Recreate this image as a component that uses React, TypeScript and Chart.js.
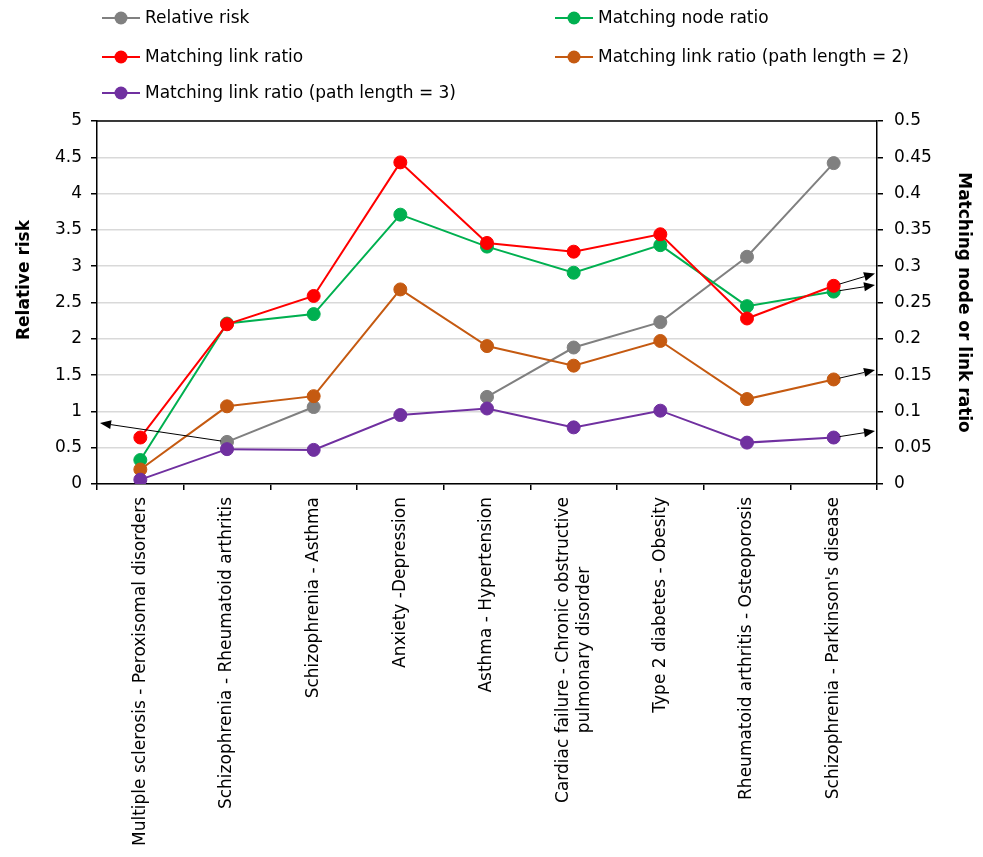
import { useEffect, useRef } from 'react';
import { Chart, registerables } from 'chart.js';

Chart.register(...registerables);

const categories: (string | string[])[] = [
  'Multiple sclerosis - Peroxisomal disorders',
  'Schizophrenia - Rheumatoid arthritis',
  'Schizophrenia - Asthma',
  'Anxiety -Depression',
  'Asthma - Hypertension',
  ['Cardiac failure - Chronic obstructive', 'pulmonary disorder'],
  'Type 2 diabetes - Obesity',
  'Rheumatoid arthritis - Osteoporosis',
  "Schizophrenia - Parkinson's disease",
];

const relativeRisk = [null, 0.58, 1.06, null, 1.2, 1.88, 2.23, 3.13, 4.42];
const nodeRatio = [0.033, 0.221, 0.234, 0.371, 0.327, 0.291, 0.329, 0.245, 0.265];
const linkRatio = [0.064, 0.22, 0.259, 0.443, 0.332, 0.32, 0.344, 0.228, 0.273];
const linkRatio2 = [0.02, 0.107, 0.121, 0.268, 0.19, 0.163, 0.197, 0.117, 0.144];
const linkRatio3 = [0.006, 0.048, 0.047, 0.095, 0.104, 0.078, 0.101, 0.057, 0.064];

const seriesLabels = [
  'Relative risk',
  'Matching node ratio',
  'Matching link ratio',
  'Matching link ratio (path length = 2)',
  'Matching link ratio (path length = 3)',
];
const seriesColors = ['#808080', '#00b050', '#ff0000', '#c55a11', '#7030a0'];

const leftAxisTitle = 'Relative risk';
const rightAxisTitle = 'Matching node or link ratio';

// annotation arrows: from a series point to a value on an axis edge
const arrows = [
  { series: 0, index: 1, axis: 'y', value: 0.84, side: 'left' },
  { series: 2, index: 8, axis: 'y1', value: 0.29, side: 'right' },
  { series: 1, index: 8, axis: 'y1', value: 0.274, side: 'right' },
  { series: 3, index: 8, axis: 'y1', value: 0.157, side: 'right' },
  { series: 4, index: 8, axis: 'y1', value: 0.073, side: 'right' },
];

const FONT = "'DejaVu Sans', sans-serif";
const FS = 17;

const fmt = (v: number) => String(Number(Number(v).toFixed(2)));

const decorPlugin = {
  id: 'decor',
  afterDatasetsDraw(chart: any) {
    const { ctx, chartArea } = chart;
    ctx.save();
    ctx.strokeStyle = '#000';
    ctx.fillStyle = '#000';
    ctx.lineWidth = 1;
    arrows.forEach((a) => {
      const meta = chart.getDatasetMeta(a.series);
      const pt = meta.data[a.index];
      if (!pt) return;
      const sx = pt.x, sy = pt.y;
      const tx = a.side === 'left' ? chartArea.left + 3 : chartArea.right - 2;
      const ty = chart.scales[a.axis].getPixelForValue(a.value);
      const ang = Math.atan2(ty - sy, tx - sx);
      const r = 6;
      const x0 = sx + Math.cos(ang) * r, y0 = sy + Math.sin(ang) * r;
      const hl = 11, hw = 4.5;
      const bx = tx - Math.cos(ang) * hl, by = ty - Math.sin(ang) * hl;
      ctx.beginPath();
      ctx.moveTo(x0, y0);
      ctx.lineTo(bx, by);
      ctx.stroke();
      ctx.beginPath();
      ctx.moveTo(tx, ty);
      ctx.lineTo(bx + Math.sin(ang) * hw, by - Math.cos(ang) * hw);
      ctx.lineTo(bx - Math.sin(ang) * hw, by + Math.cos(ang) * hw);
      ctx.closePath();
      ctx.fill();
    });
    ctx.restore();
  },
  afterDraw(chart: any) {
    const { ctx, chartArea } = chart;
    ctx.save();
    // top border of plot area
    ctx.strokeStyle = '#000';
    ctx.lineWidth = 1.5;
    ctx.beginPath();
    ctx.moveTo(chartArea.left, chartArea.top);
    ctx.lineTo(chartArea.right, chartArea.top);
    ctx.stroke();

    // category labels, rotated, lines centred on each other
    const xs = chart.scales.x;
    ctx.font = `${FS}px ${FONT}`;
    ctx.fillStyle = '#000';
    ctx.textBaseline = 'middle';
    ctx.textAlign = 'center';
    const lh = 21;
    const top = chartArea.bottom + 13;
    categories.forEach((c, i) => {
      const lines = Array.isArray(c) ? c : [c];
      const maxW = Math.max(...lines.map((l) => ctx.measureText(l).width));
      const px = xs.getPixelForTick(i);
      ctx.save();
      ctx.translate(px, top);
      ctx.rotate(-Math.PI / 2);
      lines.forEach((l, k) => {
        ctx.fillText(l, -maxW / 2, (k - (lines.length - 1) / 2) * lh);
      });
      ctx.restore();
    });

    // legend
    const colX = [102, 555];
    const rowY = [18, 57, 93];
    ctx.font = `${FS}px ${FONT}`;
    ctx.textBaseline = 'middle';
    ctx.textAlign = 'left';
    seriesLabels.forEach((lab, i) => {
      const x = colX[i % 2];
      const y = rowY[Math.floor(i / 2)];
      ctx.strokeStyle = seriesColors[i];
      ctx.lineWidth = 2;
      ctx.beginPath();
      ctx.moveTo(x, y);
      ctx.lineTo(x + 38, y);
      ctx.stroke();
      ctx.fillStyle = seriesColors[i];
      ctx.beginPath();
      ctx.arc(x + 19, y, 6.5, 0, Math.PI * 2);
      ctx.fill();
      ctx.fillStyle = '#000';
      ctx.fillText(lab, x + 43, y + 1);
    });

    // axis titles
    ctx.font = `bold ${FS}px ${FONT}`;
    ctx.textAlign = 'center';
    ctx.fillStyle = '#000';
    ctx.save();
    ctx.translate(25, 280);
    ctx.rotate(-Math.PI / 2);
    ctx.fillText(leftAxisTitle, 0, 0);
    ctx.restore();
    ctx.save();
    ctx.translate(963, (chartArea.top + chartArea.bottom) / 2);
    ctx.rotate(Math.PI / 2);
    ctx.fillText(rightAxisTitle, 0, 0);
    ctx.restore();
    ctx.restore();
  },
};

export default function App() {
  const ref = useRef<HTMLCanvasElement | null>(null);
  useEffect(() => {
    if (!ref.current) return;
    const data = [relativeRisk, nodeRatio, linkRatio, linkRatio2, linkRatio3];
    const chart = new Chart(ref.current, {
      type: 'line',
      data: {
        labels: categories as any,
        datasets: data.map((d, i) => ({
          label: seriesLabels[i],
          data: d as any,
          yAxisID: i === 0 ? 'y' : 'y1',
          borderColor: seriesColors[i],
          backgroundColor: seriesColors[i],
          pointBackgroundColor: seriesColors[i],
          pointBorderColor: seriesColors[i],
          pointRadius: 6.5,
          pointBorderWidth: 1,
          borderWidth: 2,
          tension: 0,
          spanGaps: false,
          order: 5 - i,
        })),
      },
      options: {
        animation: false,
        responsive: true,
        maintainAspectRatio: false,
        layout: { autoPadding: false, padding: { top: 121, left: 0, right: 0, bottom: 0 } },
        plugins: { legend: { display: false }, tooltip: { enabled: false } },
        scales: {
          x: {
            type: 'category',
            offset: true,
            grid: {
              display: true,
              drawOnChartArea: false,
              offset: true,
              tickLength: 6,
              tickColor: '#000',
              lineWidth: 1.5,
            },
            border: { color: '#000', width: 1.5 },
            ticks: { display: false, autoSkip: false },
            afterFit: (s: any) => { s.height = 373; },
          },
          y: {
            position: 'left',
            min: 0,
            max: 5,
            ticks: {
              stepSize: 0.5,
              padding: 9,
              color: '#000',
              font: { family: FONT, size: FS },
              callback: (v: any) => fmt(v),
            },
            grid: { color: '#d9d9d9', lineWidth: 1.5, tickColor: '#000', tickLength: 6 },
            border: { color: '#000', width: 1.5 },
            afterFit: (s: any) => { s.width = 97; },
          },
          y1: {
            position: 'right',
            min: 0,
            max: 0.5,
            ticks: {
              stepSize: 0.05,
              padding: 11,
              color: '#000',
              font: { family: FONT, size: FS },
              callback: (v: any) => fmt(v),
            },
            grid: { drawOnChartArea: false, tickColor: '#000', tickLength: 6, lineWidth: 1.5 },
            border: { color: '#000', width: 1.5 },
            afterFit: (s: any) => { s.width = 106; },
          },
        },
      } as any,
      plugins: [decorPlugin],
    });
    return () => chart.destroy();
  }, []);
  return (
    <div style={{ position: 'absolute', left: 0, top: 0, width: 983, height: 857, background: '#fff' }}>
      <canvas ref={ref} />
    </div>
  );
}
